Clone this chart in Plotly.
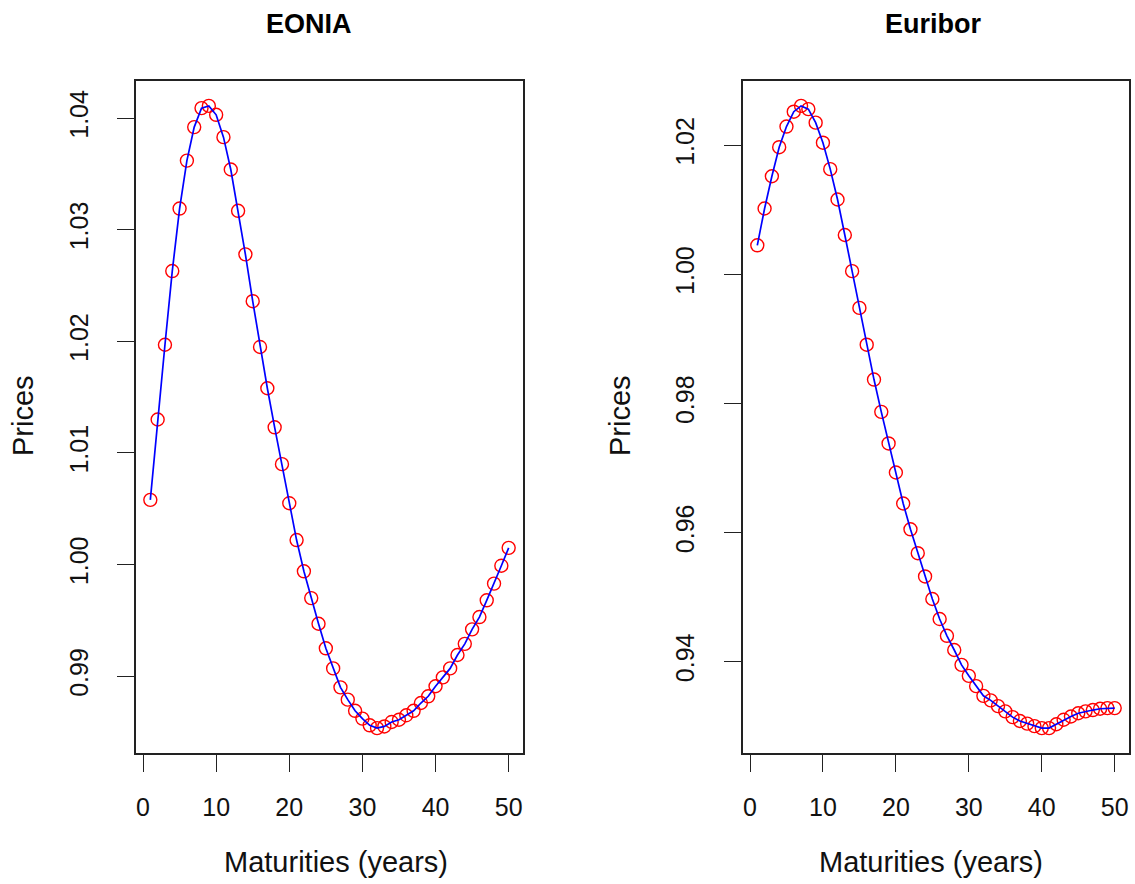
import plotly.graph_objects as go

maturities = list(range(1, 51))

eonia = [1.0058, 1.0130, 1.0197, 1.0263, 1.0319, 1.0362, 1.0392, 1.0409, 1.0411, 1.0403,
         1.0383, 1.0354, 1.0317, 1.0278, 1.0236, 1.0195, 1.0158, 1.0123, 1.0090, 1.0055,
         1.0022, 0.9994, 0.9970, 0.9947, 0.9925, 0.9907, 0.9890, 0.9879, 0.9869, 0.9862,
         0.9856, 0.98535, 0.9855, 0.9859, 0.9861, 0.9865, 0.9869, 0.9876, 0.9882, 0.9891,
         0.9899, 0.9907, 0.9919, 0.9929, 0.9942, 0.9953, 0.9968, 0.9983, 0.9999, 1.0015]

euribor = [1.0045, 1.0102, 1.0152, 1.0197, 1.0229, 1.0252, 1.0261, 1.0256, 1.0235, 1.0204,
           1.0163, 1.0116, 1.0061, 1.0005, 0.9948, 0.9891, 0.9837, 0.9787, 0.9738, 0.9693,
           0.9645, 0.9605, 0.9568, 0.9532, 0.9497, 0.9466, 0.9440, 0.9418, 0.9395, 0.9378,
           0.9362, 0.9347, 0.9340, 0.9331, 0.9323, 0.9314, 0.9308, 0.9304, 0.9300, 0.9297,
           0.9297, 0.9303, 0.9310, 0.9315, 0.9320, 0.9323, 0.9325, 0.9327, 0.9328, 0.9328]

x_ticks = [0, 10, 20, 30, 40, 50]
eonia_ticks = [0.99, 1.00, 1.01, 1.02, 1.03, 1.04]
euribor_ticks = [0.94, 0.96, 0.98, 1.00, 1.02]

titles = ["EONIA", "Euribor"]
x_title = "Maturities (years)"
y_title = "Prices"

W, H = 1135, 884


def rng(v):
    lo, hi = min(v), max(v)
    d = hi - lo
    return [lo - 0.04 * d, hi + 0.04 * d]


fig = go.Figure()

for i, (ser, xa, ya) in enumerate([(eonia, "x", "y"), (euribor, "x2", "y2")]):
    fig.add_trace(go.Scatter(
        x=maturities, y=ser, mode="markers", xaxis=xa, yaxis=ya,
        marker=dict(symbol="circle-open", size=13, color="#FF0000",
                    line=dict(width=1.4, color="#FF0000")),
        showlegend=False, hoverinfo="skip"))
    fig.add_trace(go.Scatter(
        x=maturities, y=ser, mode="lines", xaxis=xa, yaxis=ya,
        line=dict(color="#0000FF", width=1.7),
        showlegend=False, hoverinfo="skip"))

tickfont = dict(family="Liberation Sans, Arial, sans-serif", size=25, color="#111111")
axis_common = dict(showline=True, mirror=True, linecolor="#222222", linewidth=1.5,
                   ticks="outside", ticklen=17, tickwidth=1.3, tickcolor="#222222",
                   showgrid=False, zeroline=False, tickfont=tickfont)

ydom = [1 - 753 / H, 1 - 81 / H]

fig.update_layout(
    width=W, height=H,
    margin=dict(l=0, r=0, t=0, b=0),
    paper_bgcolor="white", plot_bgcolor="white",
    xaxis=dict(domain=[136 / W, 523 / W], range=rng(maturities), anchor="y",
               tickvals=x_ticks, ticklabelstandoff=14, **axis_common),
    yaxis=dict(domain=ydom, range=rng(eonia), anchor="x",
               tickvals=eonia_ticks, ticktext=[f"{t:.2f}" for t in eonia_ticks],
               tickangle=-90, ticklabelstandoff=19, **axis_common),
    xaxis2=dict(domain=[743 / W, 1129 / W], range=rng(maturities), anchor="y2",
                tickvals=x_ticks, ticklabelstandoff=14, **axis_common),
    yaxis2=dict(domain=ydom, range=rng(euribor), anchor="x2",
                tickvals=euribor_ticks, ticktext=[f"{t:.2f}" for t in euribor_ticks],
                tickangle=-90, ticklabelstandoff=20, **axis_common),
)

labfont = dict(family="Liberation Sans, Arial, sans-serif", size=29, color="#111111")
titlefont = dict(family="Liberation Sans, Arial, sans-serif", size=27, color="#000000")

ann = []
for t, cx in zip(titles, [309, 933]):
    ann.append(dict(text=f"<b>{t}</b>", x=cx / W, y=1 - 24 / H, xref="paper", yref="paper",
                    xanchor="center", yanchor="middle", showarrow=False, font=titlefont))
for cx in [336, 931]:
    ann.append(dict(text=x_title, x=cx / W, y=1 - 862 / H, xref="paper", yref="paper",
                    xanchor="center", yanchor="middle", showarrow=False, font=labfont))
for cx in [23, 620]:
    ann.append(dict(text=y_title, x=cx / W, y=1 - 416 / H, xref="paper", yref="paper",
                    xanchor="center", yanchor="middle", showarrow=False, textangle=-90,
                    font=labfont))
fig.update_layout(annotations=ann)

fig.write_html("out.html")
